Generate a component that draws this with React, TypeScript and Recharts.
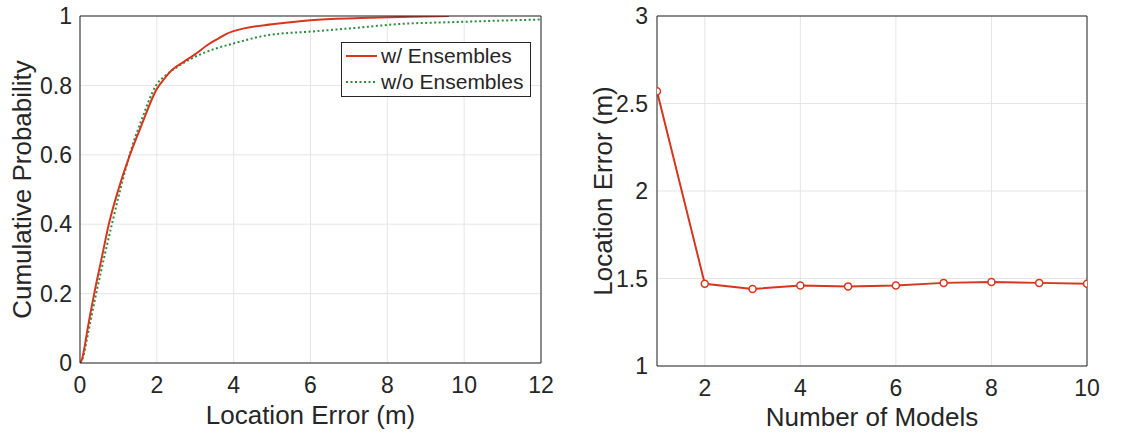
import { LineChart, Line, XAxis, YAxis, CartesianGrid, Legend } from 'recharts';

// CDF of location error
const errWith = [0, 0.05, 0.1, 0.2, 0.37, 0.56, 0.75, 1.0, 1.3, 1.6, 2.0, 2.2, 2.4, 2.7, 3.0, 3.3, 3.6, 3.8, 4.3, 5.0, 6.0, 7.3, 8.6, 9.6];
const cdfWith = [0, 0.01, 0.035, 0.1, 0.2, 0.3, 0.4, 0.5, 0.6, 0.685, 0.79, 0.82, 0.845, 0.868, 0.89, 0.915, 0.935, 0.948, 0.965, 0.976, 0.988, 0.994, 0.998, 1.0];
const errWithout = [0, 0.05, 0.1, 0.2, 0.42, 0.62, 0.83, 1.05, 1.29, 1.6, 1.98, 2.3, 2.6, 3.1, 3.5, 4.0, 4.9, 6.0, 7.3, 8.2, 9.9, 12];
const cdfWithout = [0, 0.008, 0.025, 0.08, 0.2, 0.3, 0.4, 0.5, 0.6, 0.7, 0.8, 0.835, 0.858, 0.888, 0.905, 0.921, 0.945, 0.955, 0.967, 0.976, 0.983, 0.99];

// mean location error vs ensemble size, right panel
const models = [1, 2, 3, 4, 5, 6, 7, 8, 9, 10];
const modelErr = [2.57, 1.47, 1.44, 1.46, 1.455, 1.46, 1.475, 1.48, 1.475, 1.47];

const errTicks = [0, 2, 4, 6, 8, 10, 12];
const probTicks = [0, 0.2, 0.4, 0.6, 0.8, 1];
const modelTicks = [2, 4, 6, 8, 10];
const modelErrTicks = [1, 1.5, 2, 2.5, 3];

const RED = '#d7361e';
const GREEN = '#2a8c3c';
const INK = '#262626';
const FONT = '"Liberation Sans", Arial, sans-serif';

const withData = errWith.map((x, i) => ({ x, y: cdfWith[i] }));
const withoutData = errWithout.map((x, i) => ({ x, y: cdfWithout[i] }));
const modelData = models.map((n, i) => ({ n, err: modelErr[i] }));

const tickStyle = { fontSize: 23, fill: INK, fontFamily: FONT };
const labelStyle = { fontSize: 26, fill: INK, fontFamily: FONT, textAnchor: 'middle' as const };

const legendItems = [
  { name: 'w/ Ensembles', color: RED, dash: undefined },
  { name: 'w/o Ensembles', color: GREEN, dash: '2 2.5' },
];

const renderLegend = () => (
  <div style={{ position: 'relative', width: 188, height: 53, border: `1px solid ${INK}`, background: '#fff', fontFamily: FONT, fontSize: 21, color: INK }}>
    {legendItems.map((item, i) => (
      <div key={item.name} style={{ position: 'absolute', left: 4, top: 1 + i * 25.5, height: 24, display: 'flex', alignItems: 'center', whiteSpace: 'nowrap' }}>
        <svg width={32} height={4} style={{ marginRight: 3 }}>
          <line x1={0} y1={2} x2={31} y2={2} stroke={item.color} strokeWidth={2} strokeDasharray={item.dash} />
        </svg>
        {item.name}
      </div>
    ))}
  </div>
);

// mirrored axes draw the inward tick marks and the top/right sides of the box
const frameProps = { type: 'number' as const, allowDataOverflow: true, mirror: true, tick: false, tickLine: { stroke: INK }, tickSize: 5 };

export default function App() {
  return (
    <div style={{ position: 'absolute', left: 0, top: 0, width: 1143, height: 432, background: '#fff' }}>
      <div style={{ position: 'absolute', left: 0, top: 0 }}>
        <LineChart width={560} height={432} margin={{ top: 16, right: 19, bottom: 0, left: 0 }}>
          <CartesianGrid stroke="#e5e5e5" />
          <XAxis
            type="number"
            dataKey="x"
            domain={[0, 12]}
            ticks={errTicks}
            allowDataOverflow
            height={69}
            tickLine={false}
            tickSize={6}
            tickMargin={8}
            tick={tickStyle}
            axisLine={{ stroke: INK }}
            label={{ value: 'Location Error (m)', position: 'insideBottom', offset: 8, style: labelStyle }}
          />
          <YAxis
            type="number"
            dataKey="y"
            domain={[0, 1]}
            ticks={probTicks}
            allowDataOverflow
            width={80}
            tickLine={false}
            tick={tickStyle}
            axisLine={{ stroke: INK }}
            label={{ value: 'Cumulative Probability', angle: -90, position: 'insideLeft', offset: 22, style: labelStyle }}
          />
          <XAxis xAxisId="bt" dataKey="x" domain={[0, 12]} ticks={errTicks} axisLine={false} {...frameProps} />
          <XAxis xAxisId="t" orientation="top" dataKey="x" domain={[0, 12]} ticks={errTicks} axisLine={{ stroke: INK }} {...frameProps} />
          <YAxis yAxisId="lt" dataKey="y" domain={[0, 1]} ticks={probTicks} axisLine={false} {...frameProps} />
          <YAxis yAxisId="r" orientation="right" dataKey="y" domain={[0, 1]} ticks={probTicks} axisLine={{ stroke: INK }} {...frameProps} />
          <Line data={withoutData} dataKey="y" name="w/o Ensembles" type="monotone" stroke={GREEN} strokeWidth={2} strokeDasharray="2 2.5" dot={false} isAnimationActive={false} />
          <Line data={withData} dataKey="y" name="w/ Ensembles" type="monotone" stroke={RED} strokeWidth={2} dot={false} isAnimationActive={false} />
          <Legend verticalAlign="middle" align="center" content={renderLegend} wrapperStyle={{ left: 341, top: 42, width: 190 }} />
        </LineChart>
      </div>
      <div style={{ position: 'absolute', left: 570, top: 0 }}>
        <LineChart width={573} height={432} data={modelData} margin={{ top: 16, right: 56, bottom: 0, left: 0 }}>
          <CartesianGrid stroke="#e5e5e5" />
          <XAxis
            type="number"
            dataKey="n"
            domain={[1, 10]}
            ticks={modelTicks}
            allowDataOverflow
            height={66}
            tickLine={false}
            tickSize={6}
            tickMargin={8}
            tick={tickStyle}
            axisLine={{ stroke: INK }}
            label={{ value: 'Number of Models', position: 'insideBottom', offset: 6, style: labelStyle }}
          />
          <YAxis
            type="number"
            dataKey="err"
            domain={[1, 3]}
            ticks={modelErrTicks}
            allowDataOverflow
            width={87}
            tickLine={false}
            tickSize={6}
            tickMargin={3}
            tick={tickStyle}
            axisLine={{ stroke: INK }}
            label={{ value: 'Location Error (m)', angle: -90, position: 'insideLeft', offset: 33, style: labelStyle }}
          />
          <XAxis xAxisId="bt" dataKey="n" domain={[1, 10]} ticks={modelTicks} axisLine={false} {...frameProps} />
          <XAxis xAxisId="t" orientation="top" dataKey="n" domain={[1, 10]} ticks={modelTicks} axisLine={{ stroke: INK }} {...frameProps} />
          <YAxis yAxisId="lt" dataKey="err" domain={[1, 3]} ticks={modelErrTicks} axisLine={false} {...frameProps} />
          <YAxis yAxisId="r" orientation="right" dataKey="err" domain={[1, 3]} ticks={modelErrTicks} axisLine={{ stroke: INK }} {...frameProps} />
          <Line dataKey="err" type="linear" stroke={RED} strokeWidth={2} dot={{ r: 3.5, stroke: RED, strokeWidth: 1.5, fill: '#fff' }} isAnimationActive={false} />
        </LineChart>
      </div>
    </div>
  );
}
